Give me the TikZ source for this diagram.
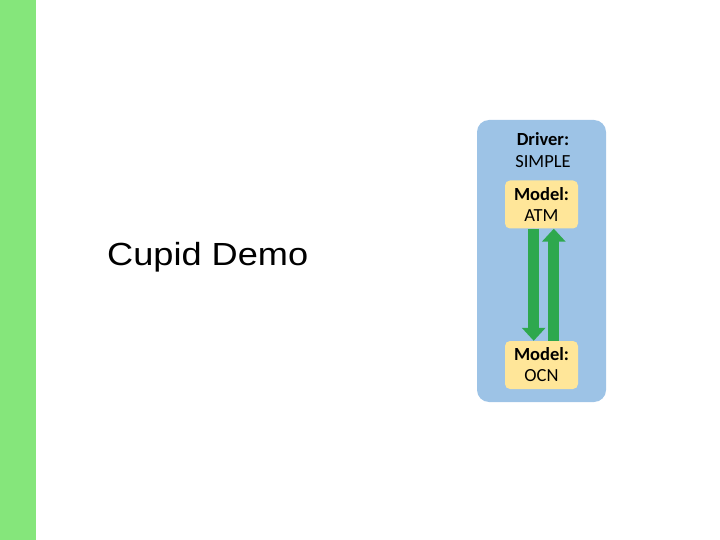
\documentclass[tikz,border=0pt]{standalone}
\usepackage{fontspec}
\setmainfont{Carlito}
\newfontfamily\arialfont{Liberation Sans}
\usetikzlibrary{arrows.meta}
\definecolor{barGreen}{HTML}{85E67B}
\definecolor{driverBlue}{HTML}{9DC3E6}
\definecolor{modelYellow}{HTML}{FFE699}
\definecolor{flowGreen}{HTML}{2EA84E}

\tikzset{
	model/.style={fill=modelYellow,rounded corners=5pt,minimum width=73pt,minimum height=48pt,align=center,font=\fontsize{18.5}{21}\selectfont,inner sep=0pt},
	flow/.style={draw=flowGreen,line width=11pt,-{Triangle[width=23pt,length=13pt]}}
}

\begin{document}
\begin{tikzpicture}[x=1pt,y=-1pt]
		\useasboundingbox (0,0) rectangle (720,540);
		\fill[barGreen] (0,0) rectangle (36,540);
		\node[anchor=base west,inner sep=0pt,xscale=1.13,transform shape,font=\arialfont\fontsize{32}{36}\selectfont] (title) at (107,265) {Cupid Demo};
		\node[fill=driverBlue,rounded corners=12pt,minimum width=129pt,minimum height=282pt,inner sep=0pt] (driver) at (541.5,261) {};
		\node[align=center,inner sep=0pt,font=\fontsize{18.5}{22.5}\selectfont,anchor=north] (drvlabel) at (543,132) {\textbf{Driver:}\\SIMPLE};
		\node[model] (atm) at (541.5,204.5) {\textbf{Model:}\\ATM};
		\node[model] (ocn) at (541.5,365) {\textbf{Model:}\\OCN};
		% exchange between the two models
		\draw[flow] ([xshift=-7.8pt]atm.south) -- ([xshift=-7.8pt]ocn.north);
		\draw[flow] ([xshift=12.3pt]ocn.north) -- ([xshift=12.3pt]atm.south);
	\end{tikzpicture}
\end{document}
